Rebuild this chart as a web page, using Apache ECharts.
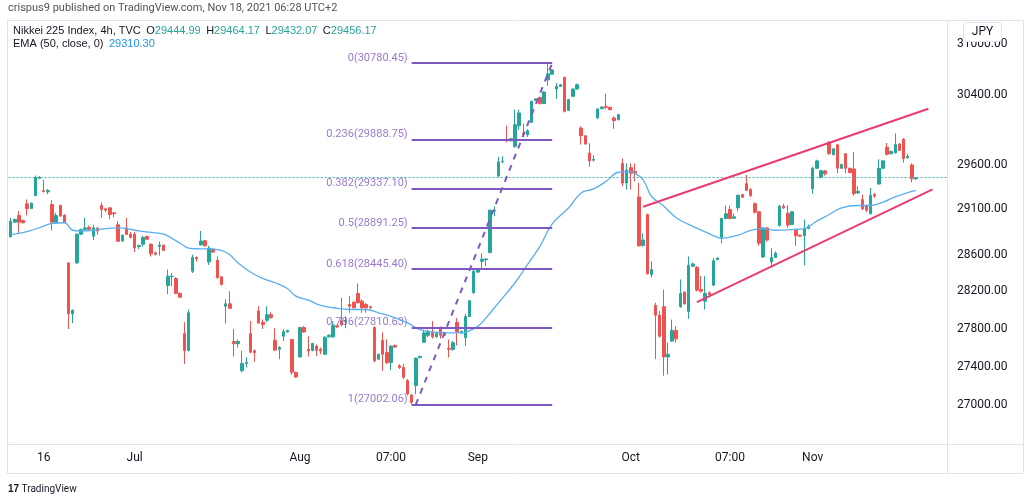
<!DOCTYPE html>
<html>
<head>
<meta charset="utf-8">
<script src="https://cdn.jsdelivr.net/npm/echarts@6/dist/echarts.min.js"></script>
<style>
  html, body { margin: 0; padding: 0; background: #fff; }
  #chart { width: 1024px; height: 500px; }
</style>
</head>
<body>
<div id="chart"></div>
<script>
// Nikkei 225, 4h bars
const opens = [
  28797, 28959, 29033, 28978, 29163, 29111, 29255, 29450, 29311, 29297,
  29155, 28952, 29144, 29037, 28510, 27958, 28510, 28826, 28880, 28900,
  28804, 28891, 29144, 29107, 29118, 29063, 28929, 28750, 28895, 28826,
  28826, 28689, 28715, 28800, 28715, 28620, 28690, 28705, 28265, 28360,
  28340, 28178, 27748, 27568, 28419, 28570, 28707, 28754, 28520, 28660,
  28538, 28358, 28040, 28066, 27664, 27640, 27355, 27432, 27748, 27565,
  27990, 27870, 27890, 27950, 27675, 27581, 27720, 27765, 27685, 27340,
  27500, 27813, 27581, 27568, 27615, 27581, 27529, 27713, 27713, 27832,
  27886, 27875, 28059, 28084, 28178, 28095, 28059, 28035, 27813, 27477,
  27675, 27547, 27443, 27623, 27408, 27390, 27252, 27102, 27200, 27495,
  27657, 27730, 27761, 27713, 27796, 27745, 27592, 27581, 27868, 27755,
  27703, 27930, 28186, 28410, 28527, 28545, 28624, 29083, 29477, 29636,
  29885, 29877, 29814, 30050, 29965, 29945, 30088, 30343, 30377, 30305,
  30583, 30649, 30475, 30505, 30610, 30227, 30390, 30475, 30023, 29934,
  29736, 29655, 30139, 30245, 30273, 30262, 30139, 30119, 29618, 29396,
  29570, 29525, 29240, 28700, 29044, 28383, 28051, 27944, 28035, 27500,
  27668, 27782, 28035, 28192, 27985, 28473, 28462, 28221, 28095, 28186,
  28268, 28545, 28790, 28999, 29100, 29003, 29118, 29266, 29388, 29322,
  29163, 29074, 28575, 28895, 28520, 28570, 28922, 29137, 29059, 28933,
  28869, 28815, 28808, 28888, 29333, 29563, 29459, 29533, 29858, 29718,
  29830, 29563, 29729, 29563, 29555, 29285, 29211, 29144, 29052, 29266,
  29385, 29563, 29803, 29729, 29740, 29840, 29895, 29681, 29600, 29444.99
];
const highs = [
  29008, 28997, 29081, 28985, 29211, 29180, 29481, 29475, 29433, 29330,
  29203, 29063, 29155, 29045, 28516, 28005, 28835, 28888, 29008, 28920,
  28930, 28905, 29181, 29120, 29125, 29070, 28970, 28820, 29008, 28850,
  28850, 28710, 28805, 28810, 28725, 28635, 28745, 28710, 28437, 28400,
  28355, 28190, 27870, 28005, 28600, 28580, 28862, 28760, 28697, 28668,
  28580, 28365, 28113, 28203, 27796, 27685, 27565, 27495, 27880, 27580,
  28040, 27897, 28040, 27975, 27805, 27615, 27796, 27790, 27692, 27345,
  27820, 27830, 27720, 27650, 27633, 27600, 27720, 27740, 27880, 27840,
  28130, 27930, 28150, 28095, 28286, 28113, 28075, 28045, 27825, 27535,
  27761, 27685, 27625, 27630, 27425, 27425, 27269, 27110, 27495, 27515,
  27789, 27790, 27880, 27761, 27825, 27750, 27685, 27670, 27915, 27780,
  27960, 28105, 28430, 28455, 28615, 28560, 29100, 29135, 29692, 29700,
  30050, 29910, 30235, 30235, 30073, 30010, 30340, 30370, 30385, 30450,
  30780.45, 30710, 30545, 30535, 30622, 30360, 30480, 30540, 30042, 29940,
  29847, 29710, 30250, 30275, 30420, 30270, 30158, 30185, 29674, 29618,
  29618, 29618, 29396, 28834, 29055, 28527, 28078, 27988, 28221, 27650,
  27897, 27825, 28329, 28200, 28581, 28515, 28473, 28365, 28365, 28200,
  28563, 28570, 29008, 29144, 29144, 29055, 29266, 29275, 29488, 29340,
  29180, 29081, 28906, 28906, 28672, 28635, 29152, 29163, 29148, 29080,
  28888, 28820, 28987, 28933, 29581, 29660, 29545, 29545, 29870, 29790,
  29840, 29615, 29736, 29570, 29747, 29359, 29266, 29155, 29340, 29285,
  29664, 29655, 29851, 29765, 29960, 29850, 29905, 29728, 29618, 29464.17
];
const lows = [
  28790, 28952, 28840, 28945, 29033, 29105, 29248, 29440, 29292, 29270,
  28869, 28945, 29020, 28950, 27796, 27860, 28500, 28815, 28869, 28869,
  28760, 28820, 29008, 29070, 28990, 29010, 28743, 28745, 28815, 28780,
  28628, 28660, 28690, 28765, 28580, 28590, 28590, 28640, 28170, 28255,
  28170, 28127, 27428, 27560, 28400, 28525, 28700, 28690, 28488, 28620,
  28337, 28265, 27854, 28010, 27505, 27600, 27340, 27390, 27540, 27450,
  27855, 27797, 27870, 27905, 27563, 27477, 27668, 27760, 27310, 27280,
  27495, 27755, 27505, 27560, 27510, 27529, 27520, 27705, 27703, 27810,
  27825, 27805, 27970, 28015, 28070, 27970, 27970, 28015, 27443, 27470,
  27355, 27425, 27363, 27598, 27373, 27269, 27096, 27002.06, 27113, 27485,
  27650, 27710, 27695, 27705, 27695, 27725, 27495, 27565, 27623, 27745,
  27615, 27925, 28175, 28400, 28437, 28473, 28615, 29025, 29463, 29620,
  29860, 29870, 29795, 30003, 29925, 29920, 30080, 30335, 30295, 30300,
  30513, 30640, 30360, 30500, 30203, 30220, 30385, 30470, 29833, 29830,
  29580, 29640, 30130, 30240, 30240, 30230, 30012, 30110, 29359, 29322,
  29322, 29414, 28690, 28690, 28383, 28348, 27477, 27703, 27303, 27315,
  27660, 27650, 28023, 28060, 27905, 28470, 28200, 28186, 28005, 28160,
  28257, 28540, 28726, 28990, 28990, 28995, 29081, 29230, 29306, 29240,
  29055, 28697, 28563, 28743, 28473, 28563, 28910, 29105, 28895, 28925,
  28697, 28795, 28484, 28880, 29277, 29555, 29450, 29480, 29718, 29710,
  29507, 29555, 29507, 29507, 29255, 29277, 29092, 29070, 29044, 29230,
  29377, 29555, 29710, 29720, 29729, 29760, 29626, 29675, 29403, 29432.07
];
const closes = [
  28970, 28989, 28959, 28952, 29111, 29170, 29458, 29462, 29300, 29311,
  28959, 29033, 29026, 28959, 27962, 27997, 28826, 28877, 28895, 28880,
  28895, 28862, 29100, 29092, 29044, 29052, 28747, 28815, 28823, 28790,
  28675, 28700, 28790, 28770, 28610, 28605, 28705, 28645, 28365, 28365,
  28178, 28138, 27568, 27970, 28570, 28555, 28750, 28697, 28672, 28628,
  28351, 28275, 28066, 28019, 27640, 27664, 27432, 27443, 27550, 27547,
  27860, 27845, 27950, 27920, 27573, 27600, 27768, 27782, 27340, 27290,
  27813, 27765, 27563, 27643, 27570, 27563, 27709, 27730, 27832, 27818,
  27843, 27887, 28040, 28023, 28078, 28023, 28023, 28023, 27460, 27529,
  27529, 27443, 27615, 27605, 27390, 27287, 27113, 27026, 27488, 27505,
  27755, 27772, 27713, 27748, 27730, 27730, 27581, 27651, 27765, 27772,
  27930, 28099, 28420, 28445, 28550, 28553, 29092, 29092, 29636, 29644,
  29874, 29900, 30061, 30197, 29953, 29992, 30331, 30360, 30305, 30440,
  30653, 30699, 30505, 30525, 30215, 30351, 30475, 30525, 29934, 29840,
  29647, 29663, 30243, 30265, 30262, 30235, 30108, 30177, 29396, 29544,
  29507, 29507, 28697, 28761, 28391, 28437, 27944, 27720, 27500, 27529,
  27782, 27692, 28178, 28066, 28484, 28499, 28214, 28203, 28178, 28167,
  28534, 28563, 28999, 29052, 28999, 29018, 29259, 29237, 29314, 29255,
  29070, 28726, 28895, 28761, 28570, 28617, 29137, 29118, 28926, 29074,
  28808, 28804, 28888, 28911, 29563, 29647, 29536, 29500, 29729, 29785,
  29563, 29607, 29563, 29514, 29277, 29303, 29107, 29092, 29259, 29248,
  29563, 29647, 29722, 29755, 29833, 29766, 29674, 29700, 29444, 29456.17
];

// EMA(50) read at sampled bars: [bar index, value]
const emaPoints = [
  [0, 28821], [2, 28834], [5, 28869], [8, 28915], [10, 28945], [13, 28952],
  [15, 28869], [17, 28862], [20, 28869], [23, 28888], [26, 28895], [28, 28888],
  [31, 28862], [34, 28845], [37, 28826], [39, 28780], [41, 28726], [43, 28672],
  [46, 28664], [49, 28661], [51, 28646], [53, 28599], [55, 28510], [59, 28383],
  [62, 28322], [64, 28294], [67, 28229], [69, 28149], [72, 28106], [75, 28049],
  [78, 28024], [82, 28005], [86, 28005], [89, 27970], [93, 27916], [96, 27862],
  [99, 27789], [102, 27765], [106, 27755], [109, 27755], [110, 27761], [113, 27825],
  [115, 27916], [118, 28077], [122, 28294], [125, 28491], [128, 28689], [131, 28940],
  [135, 29119], [138, 29285], [141, 29330], [144, 29414], [147, 29518], [150, 29525],
  [151, 29507], [153, 29433], [155, 29248], [158, 29137], [161, 29008], [164, 28934],
  [168, 28851], [171, 28790], [172, 28780], [176, 28815], [179, 28869], [182, 28888],
  [185, 28869], [189, 28877], [192, 28888], [195, 28970], [198, 29044], [201, 29119],
  [205, 29144], [208, 29144], [211, 29181], [214, 29241], [218, 29303], [219, 29310.30]
];

// fib retracement drawn from the low bar to the high bar
const fibRatios = ['0', '0.236', '0.382', '0.5', '0.618', '0.786', '1'];
const fibValues = [30780.45, 29888.75, 29337.10, 28891.25, 28445.40, 27810.63, 27002.06];
const fibStart = 97;
const fibEnd = 131;

// rising channel and swing line: [[bar, price], [bar, price]]
const channelUpper = [[153, 29130], [222, 30245]];
const channelLower = [[166, 28084], [223, 29326]];
const swingLine = [[98, 27002.06], [131, 30780.45]];

const lastClose = 29456.17;
const priceTicks = [27000, 27400, 27800, 28200, 28600, 29100, 29600, 30400, 31000];
const timeTickIndex = [8, 30, 70, 92, 113, 150, 174, 194];
const timeTickText = ['16', 'Jul', 'Aug', '07:00', 'Sep', 'Oct', '07:00', 'Nov'];
const barSlots = 227; // bars plus empty space on the right

const upColor = '#26a69a';
const downColor = '#ef5350';
const fibColor = '#7e57c2';
const channelColor = '#ec3b6e';
const textColor = '#131722';
const fontFamily = 'Roboto, "Noto Sans", sans-serif';

const categories = [];
for (let i = 0; i < barSlots; i++) categories.push(String(i));

const candleData = opens.map(function (o, i) {
  return [o, closes[i], lows[i], highs[i]];
});

const fibLabels = fibValues.map(function (v, i) {
  return { value: [fibStart, v], name: fibRatios[i] + '(' + v.toFixed(2) + ')' };
});

function segment(pts, style) {
  return [{ coord: pts[0], lineStyle: style }, { coord: pts[1] }];
}

const fibStyle = { color: fibColor, width: 2, type: 'solid' };
const channelStyle = { color: channelColor, width: 2, type: 'solid' };

const chart = echarts.init(document.getElementById('chart'));

chart.setOption({
  animation: false,
  backgroundColor: '#ffffff',
  textStyle: { fontFamily: fontFamily },
  grid: { left: 8.6, right: 77, top: 20, bottom: 56 },
  xAxis: {
    type: 'category',
    data: categories,
    boundaryGap: true,
    axisLine: { show: false },
    axisTick: { show: false },
    splitLine: { show: false },
    axisLabel: {
      interval: function (index) { return timeTickIndex.indexOf(index) >= 0; },
      formatter: function (value, index) {
        const k = timeTickIndex.indexOf(index);
        return k >= 0 ? timeTickText[k] : '';
      },
      color: textColor,
      fontSize: 12,
      margin: 8
    }
  },
  yAxis: {
    type: 'log',
    logBase: 10,
    position: 'right',
    min: 26598,
    max: 31292,
    axisLine: { show: false },
    axisTick: { show: false },
    splitLine: { show: false },
    axisLabel: {
      customValues: priceTicks,
      formatter: function (v) { return Number(v).toFixed(2); },
      color: textColor,
      fontSize: 12,
      margin: 10
    }
  },
  series: [
    {
      type: 'candlestick',
      data: candleData,
      barWidth: 3,
      itemStyle: {
        color: upColor,
        color0: downColor,
        borderColor: upColor,
        borderColor0: downColor,
        borderWidth: 1
      },
      markLine: {
        silent: true,
        symbol: ['none', 'none'],
        label: { show: false },
        data: [
          {
            yAxis: lastClose,
            lineStyle: { color: '#3fb8ad', type: [2, 2], width: 1, opacity: 1 }
          }
        ].concat(fibValues.map(function (v) {
          return segment([[fibStart, v], [fibEnd, v]], fibStyle);
        })).concat([
          segment(swingLine, { color: fibColor, width: 2, type: [6, 6] }),
          segment(channelUpper, channelStyle),
          segment(channelLower, channelStyle)
        ])
      }
    },
    {
      type: 'line',
      data: emaPoints,
      smooth: 0.4,
      showSymbol: false,
      lineStyle: { color: '#5aaeef', width: 1.3 },
      z: 3
    },
    {
      type: 'scatter',
      data: fibLabels,
      symbolSize: 0,
      silent: true,
      label: {
        show: true,
        position: 'left',
        distance: 4,
        offset: [0, -5],
        formatter: function (p) { return p.name; },
        color: fibColor,
        fontSize: 11
      }
    }
  ],
  graphic: [
    // pane frame
    { type: 'rect', shape: { x: 7.5, y: 20.5, width: 1016, height: 453 }, style: { fill: 'none', stroke: '#e0e3eb', lineWidth: 1 }, silent: true },
    { type: 'line', shape: { x1: 947.5, y1: 20, x2: 947.5, y2: 474 }, style: { stroke: '#e0e3eb', lineWidth: 1 }, silent: true },
    { type: 'line', shape: { x1: 7, y1: 444.5, x2: 1024, y2: 444.5 }, style: { stroke: '#e0e3eb', lineWidth: 1 }, silent: true },
    {
      type: 'text', left: 8, top: 3,
      style: { text: 'crispus9 published on TradingView.com, Nov 18, 2021 06:28 UTC+2', fill: '#50535e', font: '11px ' + fontFamily }
    },
    {
      type: 'text', left: 13, top: 25,
      style: {
        text: '{t|Nikkei 225 Index, 4h, TVC}  {t|O}{v|29444.99}  {t|H}{v|29464.17}  {t|L}{v|29432.07}  {t|C}{v|29456.17}',
        font: '11px ' + fontFamily,
        rich: { t: { fill: textColor, fontSize: 11 }, v: { fill: upColor, fontSize: 11 } }
      }
    },
    {
      type: 'text', left: 13, top: 38,
      style: {
        text: '{t|EMA (50, close, 0)}  {b|29310.30}',
        font: '11px ' + fontFamily,
        rich: { t: { fill: textColor, fontSize: 11 }, b: { fill: '#2196f3', fontSize: 11 } }
      }
    },
    {
      type: 'rect', shape: { x: 963.5, y: 22.5, width: 38, height: 19, r: 3 },
      style: { fill: '#ffffff', stroke: '#e0e3eb', lineWidth: 1 }, z: 100
    },
    {
      type: 'text', x: 982.5, y: 32, z: 101,
      style: { text: 'JPY', fill: textColor, font: '12px ' + fontFamily, textAlign: 'center', textVerticalAlign: 'middle' }
    },
    {
      type: 'text', left: 8, top: 484,
      style: { text: '{logo|17} TradingView', font: '10px ' + fontFamily, fill: '#131722', rich: { logo: { fontWeight: 'bold', fontSize: 10, fill: '#131722' } } }
    }
  ]
});
</script>
</body>
</html>
